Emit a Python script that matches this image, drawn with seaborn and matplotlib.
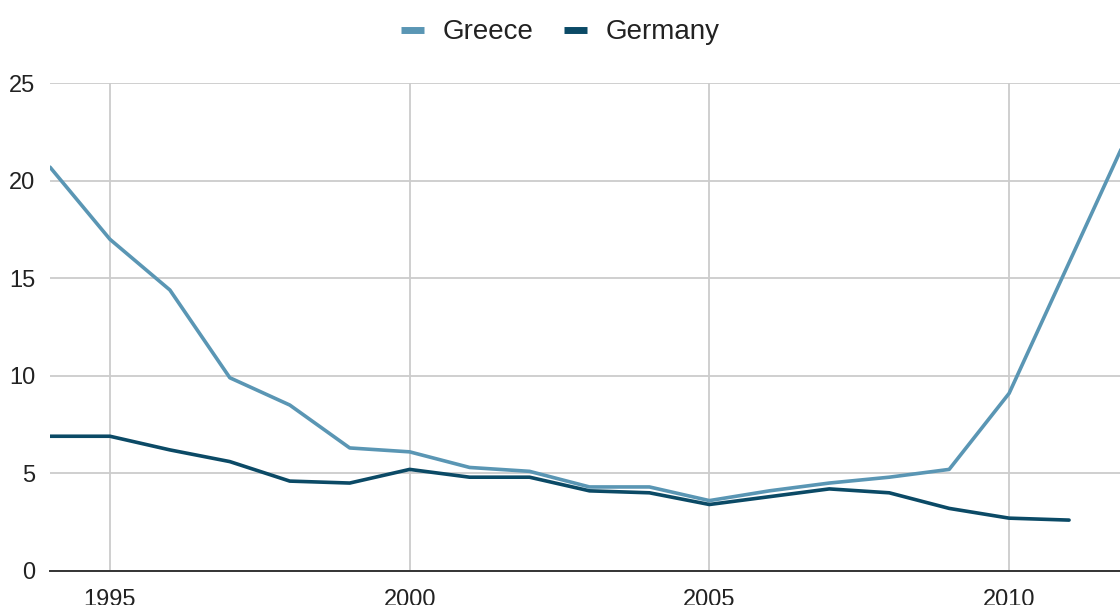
import numpy as np
import pandas as pd
import matplotlib
matplotlib.use("Agg")
import matplotlib.pyplot as plt
from matplotlib.lines import Line2D
import seaborn as sns

# Long-term government bond yields (%)
years = list(range(1994, 2013))
greece = [20.7, 17.0, 14.4, 9.9, 8.5, 6.3, 6.1, 5.3, 5.1, 4.3, 4.3, 3.6,
          4.1, 4.5, 4.8, 5.2, 9.1, 15.8, 22.5]
germany_years = list(range(1994, 2012))
germany = [6.9, 6.9, 6.2, 5.6, 4.6, 4.5, 5.2, 4.8, 4.8, 4.1, 4.0, 3.4,
           3.8, 4.2, 4.0, 3.2, 2.7, 2.6]

series_names = ["Greece", "Germany"]
colors = {"Greece": "#5a96b4", "Germany": "#0b4a66"}
x_ticks = [1995, 2000, 2005, 2010]
y_ticks = [0, 5, 10, 15, 20, 25]

df = pd.concat([
    pd.DataFrame({"year": years, "value": greece, "country": "Greece"}),
    pd.DataFrame({"year": germany_years, "value": germany, "country": "Germany"}),
], ignore_index=True)

sns.set_theme(style="white")
plt.rcParams["font.family"] = ["Liberation Sans", "DejaVu Sans"]

fig = plt.figure(figsize=(11.2, 6.05), dpi=100)
ax = fig.add_axes([50 / 1120, (605 - 570.8) / 605, 1070 / 1120, (570.8 - 83.3) / 605])

sns.lineplot(data=df, x="year", y="value", hue="country", hue_order=series_names,
             palette=colors, linewidth=2.6, legend=False, ax=ax)

ax.set_xlim(1994, 2011.85)
ax.set_ylim(0, 25)
ax.set_xticks(x_ticks)
ax.set_yticks(y_ticks)
ax.set_xticklabels([str(t) for t in x_ticks])
ax.set_yticklabels([str(t) for t in y_ticks])
ax.set_xlabel("")
ax.set_ylabel("")
ax.tick_params(axis="both", length=0, labelsize=17, colors="#222222")
ax.tick_params(axis="y", pad=10.5)
ax.tick_params(axis="x", pad=13)

ax.grid(True, color="#cccccc", linewidth=1.3)
ax.set_axisbelow(True)
for side in ["top", "right", "left"]:
    ax.spines[side].set_visible(False)
ax.spines["bottom"].set_color("#333333")
ax.spines["bottom"].set_linewidth(1.4)
ax.spines["bottom"].set_zorder(3)

handles = [Line2D([], [], color=colors[n], linewidth=5.0, solid_capstyle="butt")
           for n in series_names]
fig.legend(handles, series_names, loc="upper center", bbox_to_anchor=(0.5, 1.0),
           ncol=2, frameon=False, fontsize=20, handlelength=0.85,
           handletextpad=0.65, columnspacing=1.1, labelcolor="#222222",
           borderaxespad=0.3)

fig.savefig("out.png", dpi=100)
